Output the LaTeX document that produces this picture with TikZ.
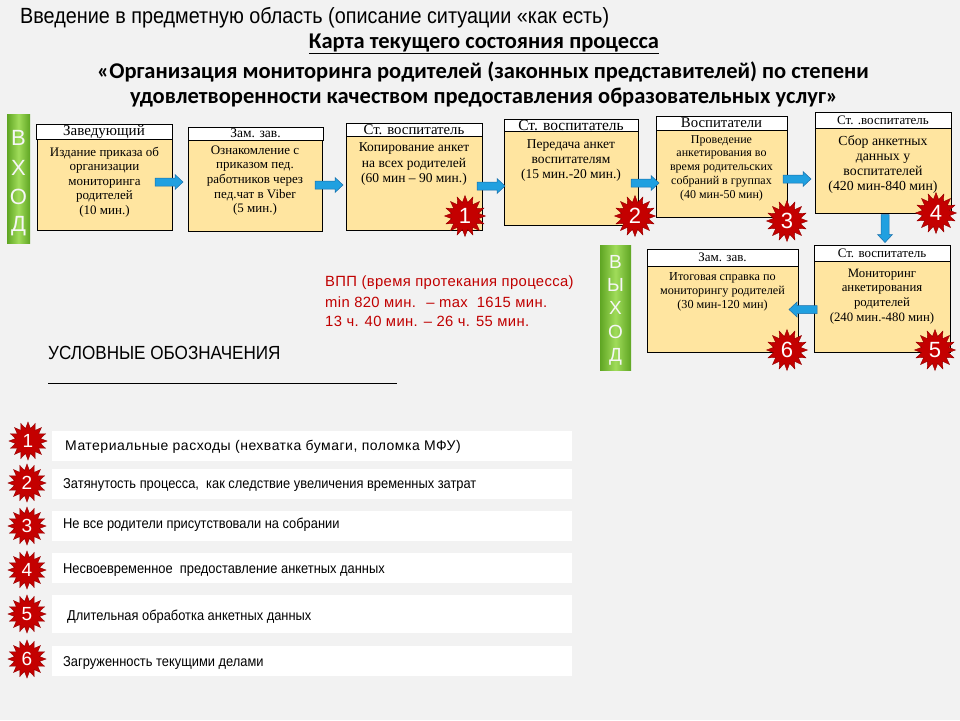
\documentclass[tikz,border=0pt]{standalone}
\usepackage{fontspec}
\setmainfont{Liberation Serif}
\newfontfamily\sansf{Liberation Sans}
\newfontfamily\narrowf[FakeStretch=0.9]{Liberation Sans}
\newfontfamily\legf[FakeStretch=0.9]{Liberation Sans}
\newfontfamily\legwidef[LetterSpace=3.5]{Liberation Sans}
\newfontfamily\vppf[LetterSpace=2.5]{Liberation Sans}
\newfontfamily\calf{Carlito}
\usetikzlibrary{shapes.geometric,calc}
\definecolor{bgc}{RGB}{242,242,242}
\definecolor{peach}{RGB}{255,229,160}
\definecolor{arrowblue}{RGB}{32,160,224}
\definecolor{arrowedge}{RGB}{25,110,170}
\definecolor{starred}{RGB}{196,0,0}
\definecolor{vppred}{RGB}{192,0,0}
\definecolor{grn}{RGB}{160,220,90}
\definecolor{grndark}{RGB}{95,165,35}
\begin{document}
\begin{tikzpicture}[x=1pt,y=-1pt,
  hdr/.style={draw=black, fill=white, line width=0.8pt, inner sep=0},
  body/.style={draw=black, fill=peach, line width=0.8pt, inner sep=0},
  btext/.style={anchor=north, align=center, inner sep=0, font=\fontsize{13}{14.6}\selectfont},
  burst/.style={star, star points=16, star point ratio=1.5, fill=starred, draw=starred!75!black, line width=0.4pt, minimum size=41pt, inner sep=0, text=white, font=\sansf\fontsize{22}{22}\selectfont},
  lburst/.style={burst, minimum size=38pt, font=\sansf\fontsize{19}{19}\selectfont},
  bar/.style={left color=grndark, right color=grndark, middle color=grn, inner sep=0},
  barletter/.style={text=white!93!gray, inner sep=0},
  band/.style={fill=white, inner sep=0, minimum width=520pt, minimum height=30pt},
  legtext/.style={anchor=west, inner sep=0, font=\legf\fontsize{14.3}{14.3}\selectfont},
  vpptext/.style={anchor=west, inner sep=0, text=vppred, font=\vppf\fontsize{14.8}{14.8}\selectfont},
  blockarrow/.pic={\filldraw[fill=arrowblue, draw=arrowedge, line width=0.5pt]
     (-14,-4) -- (6,-4) -- (6,-7.5) -- (14,0) -- (6,7.5) -- (6,4) -- (-14,4) -- cycle;}
]
\useasboundingbox (0,0) rectangle (960,720);
\fill[bgc] (0,0) rectangle (960,720);

% titles
\node[anchor=west, inner sep=0, font=\narrowf\fontsize{22}{22}\selectfont] (title1) at (20,18) {Введение в предметную область (описание ситуации «как есть)};
\node[inner sep=0, font=\calf\bfseries\fontsize{22.5}{22.5}\selectfont] (title2) at (484,44) {\underline{Карта текущего состояния процесса}};
\node[inner sep=0, font=\calf\bfseries\fontsize{22.5}{22.5}\selectfont] (title3) at (483,72) {«Организация мониторинга родителей (законных представителей) по степени};
\node[inner sep=0, font=\calf\bfseries\fontsize{22.5}{22.5}\selectfont] (title4) at (484,98) {удовлетворенности качеством предоставления образовательных услуг»};

% ВХОД bar
\node[bar, minimum width=23pt, minimum height=129pt] (vhod) at (18.5,178.5) {};
\foreach \l/\yy [count=\i] in {В/138,Х/168,О/197,Д/226}
  \node[barletter, font=\sansf\fontsize{22}{22}\selectfont] (vh\i) at (18.5,\yy) {\l};

% ВЫХОД bar
\node[bar, minimum width=31pt, minimum height=125pt] (vyhod) at (615.5,307.5) {};
\foreach \l/\yy [count=\i] in {В/262,Ы/285,Х/308,О/332,Д/357}
  \node[barletter, font=\sansf\fontsize{19}{19}\selectfont] (vy\i) at (615.5,\yy) {\l};

% Box 1
\node[hdr, minimum width=136pt, minimum height=15pt, font=\fontsize{15}{15}\selectfont] (h1) at (104,131.5) {Заведующий};
\node[body, minimum width=135pt, minimum height=91pt] (b1) at (104.5,184.5) {};
\node[btext] (t1) at (104.5,146.5) {Издание приказа об\\организации\\мониторинга\\родителей\\(10 мин.)};

% Box 2
\node[hdr, minimum width=135pt, minimum height=13pt, font=\fontsize{13.5}{13.5}\selectfont] (h2) at (255.5,133.5) {Зам. зав.};
\node[body, minimum width=134pt, minimum height=91pt] (b2) at (255,185.5) {};
\node[btext] (t2) at (255,145.5) {Ознакомление с\\приказом пед.\\работников через\\пед.чат в Viber\\(5 мин.)};

% Box 3
\node[hdr, minimum width=136pt, minimum height=13pt, font=\fontsize{14.8}{14.8}\selectfont] (h3) at (414,129.5) {Ст. воспитатель};
\node[body, minimum width=136pt, minimum height=94pt] (b3) at (414,183) {};
\node[btext, font=\fontsize{13.5}{15.5}\selectfont] (t3) at (414,142.5) {Копирование анкет\\на всех родителей\\(60 мин -- 90 мин.)};

% Box 4
\node[hdr, minimum width=134pt, minimum height=12pt, font=\fontsize{15.5}{15.5}\selectfont] (h4) at (571,125) {Ст. воспитатель};
\node[body, minimum width=134pt, minimum height=94pt] (b4) at (571,178) {};
\node[btext, font=\fontsize{13.5}{15}\selectfont] (t4) at (571,139.5) {Передача анкет\\воспитателям\\(15 мин.-20 мин.)};

% Box 5
\node[hdr, minimum width=131pt, minimum height=14pt, font=\fontsize{14.8}{14.8}\selectfont] (h5) at (721.5,123) {Воспитатели};
\node[body, minimum width=131pt, minimum height=87pt] (b5) at (721.5,173.5) {};
\node[btext, font=\fontsize{12}{13.8}\selectfont] (t5) at (721.5,135) {Проведение\\анкетирования во\\время родительских\\собраний в группах\\(40 мин-50 мин)};

% Box 6
\node[hdr, minimum width=136pt, minimum height=16pt, font=\fontsize{13}{13}\selectfont] (h6) at (883,120) {Ст.  .воспитатель};
\node[body, minimum width=136pt, minimum height=85pt] (b6) at (883,170.5) {};
\node[btext, font=\fontsize{13.8}{15.3}\selectfont] (t6) at (883,135) {Сбор анкетных\\данных у\\воспитателей\\(420 мин-840 мин)};

% Box 7
\node[hdr, minimum width=136pt, minimum height=16pt, font=\fontsize{13}{13}\selectfont] (h7) at (882,253) {Ст. воспитатель};
\node[body, minimum width=136pt, minimum height=91pt] (b7) at (882,306.5) {};
\node[btext, font=\fontsize{12.8}{14.7}\selectfont] (t7) at (882,268.5) {Мониторинг\\анкетирования\\родителей\\(240 мин.-480 мин)};

% Box 8
\node[hdr, minimum width=151pt, minimum height=17pt, font=\fontsize{13}{13}\selectfont] (h8) at (722.5,257.5) {Зам. зав.};
\node[body, minimum width=151pt, minimum height=86pt] (b8) at (722.5,309) {};
\node[btext, font=\fontsize{12.2}{14}\selectfont] (t8) at (722.5,272) {Итоговая справка по\\мониторингу родителей\\(30 мин-120 мин)};

% block arrows
\pic (a1) at (169,182) {blockarrow};
\pic (a2) at (329,185) {blockarrow};
\pic (a3) at (491,186) {blockarrow};
\pic (a4) at (645,183) {blockarrow};
\pic (a5) at (797,179) {blockarrow};
\pic[rotate=-90] (a6) at (885,228.5) {blockarrow};
\pic[rotate=180] (a7) at (803,309.5) {blockarrow};

% problem bursts
\node[burst] (s1) at (465,216) {1};
\node[burst] (s2) at (635,216) {2};
\node[burst] (s3) at (787,221) {3};
\node[burst] (s4) at (936,213) {4};
\node[burst] (s5) at (935,350) {5};
\node[burst] (s6) at (787,350) {6};

% VPP
\node[vpptext] (v1) at (325,283) {ВПП (время протекания процесса)};
\node[vpptext] (v2) at (325,302) {min 820 мин. \ – max \ 1615 мин.};
\node[vpptext] (v3) at (325,321) {13 ч. 40 мин. – 26 ч. 55 мин.};

% legend
\node[anchor=west, inner sep=0, font=\narrowf\fontsize{19}{19}\selectfont] (legtitle) at (48,353) {УСЛОВНЫЕ ОБОЗНАЧЕНИЯ};
\coordinate (ll) at (48,383);
\coordinate (lr) at (397,383);
\draw[line width=0.8pt] (ll) -- (lr);

\node[band] (band1) at (312,446) {};
\node[band] (band2) at (312,484) {};
\node[band] (band3) at (312,526) {};
\node[band] (band4) at (312,568) {};
\node[band, minimum height=38pt] (band5) at (312,614) {};
\node[band] (band6) at (312,661) {};

\node[lburst] (ls1) at (28,441) {1};
\node[lburst] (ls2) at (27,483) {2};
\node[lburst] (ls3) at (27,526) {3};
\node[lburst] (ls4) at (27,570) {4};
\node[lburst] (ls5) at (27,614) {5};
\node[lburst] (ls6) at (27,659) {6};

\node[legtext, font=\legwidef\fontsize{14}{14}\selectfont] (l1) at (65,447) {Материальные расходы (нехватка бумаги, поломка МФУ)};
\node[legtext] (l2) at (63,485) {Затянутость процесса, \ как следствие увеличения временных затрат};
\node[legtext] (l3) at (63,525) {Не все родители присутствовали на собрании};
\node[legtext] (l4) at (63,570) {Несвоевременное \ предоставление анкетных данных};
\node[legtext] (l5) at (67,617) {Длительная обработка анкетных данных};
\node[legtext] (l6) at (63,663) {Загруженность текущими делами};
\end{tikzpicture}
\end{document}
